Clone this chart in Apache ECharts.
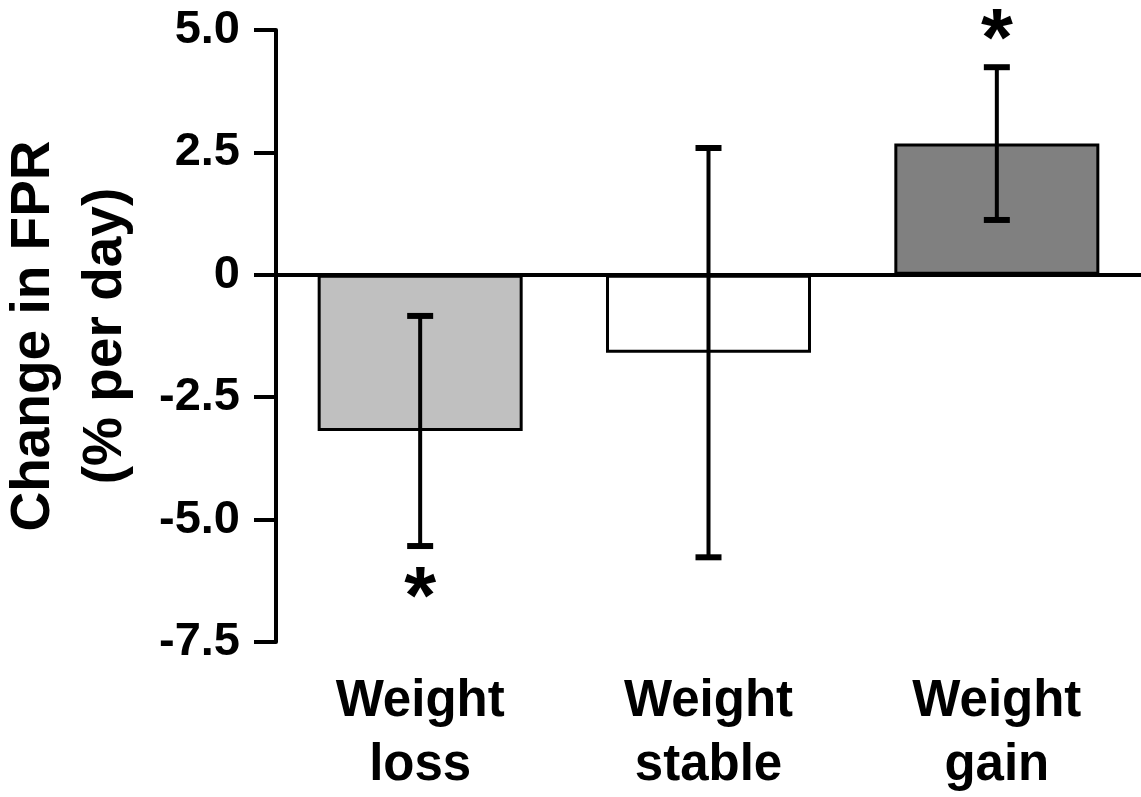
<!DOCTYPE html>
<html lang="en">
<head>
    <meta charset="UTF-8">
    <title>Change in FPR</title>
    <script src="https://cdn.jsdelivr.net/npm/echarts@6/dist/echarts.min.js"></script>
    <style>
        html, body { margin: 0; padding: 0; background: #fff; }
        #main { width: 1141px; height: 797px; }
    </style>
</head>
<body>
<div id="main"></div>
<script>
    // 数据
    var groups = ['Weight\nloss', 'Weight\nstable', 'Weight\ngain'];
    var means = [-3.19, -1.59, 2.68];
    var errs = [2.35, 4.18, 1.56];          // 误差 (±)
    var significant = [true, false, true];  // 是否标星号
    var barColors = ['#c0c0c0', '#ffffff', '#808080'];
    var yTicks = [-7.5, -5.0, -2.5, 0, 2.5, 5.0];

    var font = '"Liberation Sans", Arial, sans-serif';

    var barData = [];
    var errData = [];
    for (var i = 0; i < groups.length; i++) {
        barData[i] = {
            value: means[i],
            itemStyle: { color: barColors[i] }
        };
        errData[i] = [i, means[i] - errs[i], means[i] + errs[i], significant[i] ? 1 : 0, means[i]];
    }

    var chart = echarts.init(document.getElementById('main'));
    var option = {
        animation: false,
        grid: { left: 276, right: 0, top: 30, bottom: 155, outerBoundsMode: 'none' },
        xAxis: {
            type: 'category',
            data: groups,
            axisLine: { show: false },
            axisTick: { show: false },
            axisLabel: {
                color: '#000',
                fontFamily: font,
                fontWeight: 'bold',
                fontSize: 51,
                lineHeight: 64,
                margin: 28
            }
        },
        yAxis: {
            type: 'value',
            min: yTicks[0],
            max: yTicks[yTicks.length - 1],
            interval: 2.5,
            name: 'Change in FPR\n(% per day)',
            nameLocation: 'middle',
            nameRotate: 90,
            nameGap: 134,
            nameTextStyle: {
                color: '#000',
                fontFamily: font,
                fontWeight: 'bold',
                fontSize: 55,
                lineHeight: 72
            },
            splitLine: { show: false },
            axisLine: { show: true, onZero: false, lineStyle: { color: '#000', width: 4 } },
            axisTick: { show: true, length: 22, lineStyle: { color: '#000', width: 4 } },
            axisLabel: {
                color: '#000',
                fontFamily: font,
                fontWeight: 'bold',
                fontSize: 47,
                margin: 36,
                formatter: function (v) {
                    return v === 0 ? '0' : v.toFixed(1);
                }
            }
        },
        series: [
            {
                type: 'bar',
                data: barData,
                barWidth: 205,
                itemStyle: { borderColor: '#000', borderWidth: 3 },
                markLine: {
                    silent: true,
                    symbol: 'none',
                    label: { show: false },
                    lineStyle: { color: '#000', width: 4, type: 'solid' },
                    data: [{ yAxis: 0 }]
                },
                z: 2
            },
            {
                type: 'custom',
                data: errData,
                z: 5,
                renderItem: function (params, api) {
                    var x = api.value(0);
                    var lo = api.coord([x, api.value(1)]);
                    var hi = api.coord([x, api.value(2)]);
                    var cap = 13;
                    var style = { stroke: '#000', lineWidth: 4 };
                    var children = [
                        { type: 'line', shape: { x1: lo[0], y1: lo[1], x2: hi[0], y2: hi[1] }, style: style },
                        { type: 'line', shape: { x1: lo[0] - cap, y1: lo[1], x2: lo[0] + cap, y2: lo[1] }, style: { stroke: '#000', lineWidth: 6 } },
                        { type: 'line', shape: { x1: hi[0] - cap, y1: hi[1], x2: hi[0] + cap, y2: hi[1] }, style: { stroke: '#000', lineWidth: 6 } }
                    ];
                    if (api.value(3)) {
                        // 星号放在误差线末端外侧
                        var below = api.value(4) < 0;
                        var p = below ? lo : hi;
                        children.push({
                            type: 'text',
                            style: {
                                text: '*',
                                x: p[0],
                                y: below ? p[1] + 54 : p[1] - 25,
                                fill: '#000',
                                font: 'bold 82px ' + font,
                                align: 'center',
                                verticalAlign: 'middle'
                            }
                        });
                    }
                    return { type: 'group', children: children };
                }
            }
        ]
    };
    chart.setOption(option);
</script>
</body>
</html>
